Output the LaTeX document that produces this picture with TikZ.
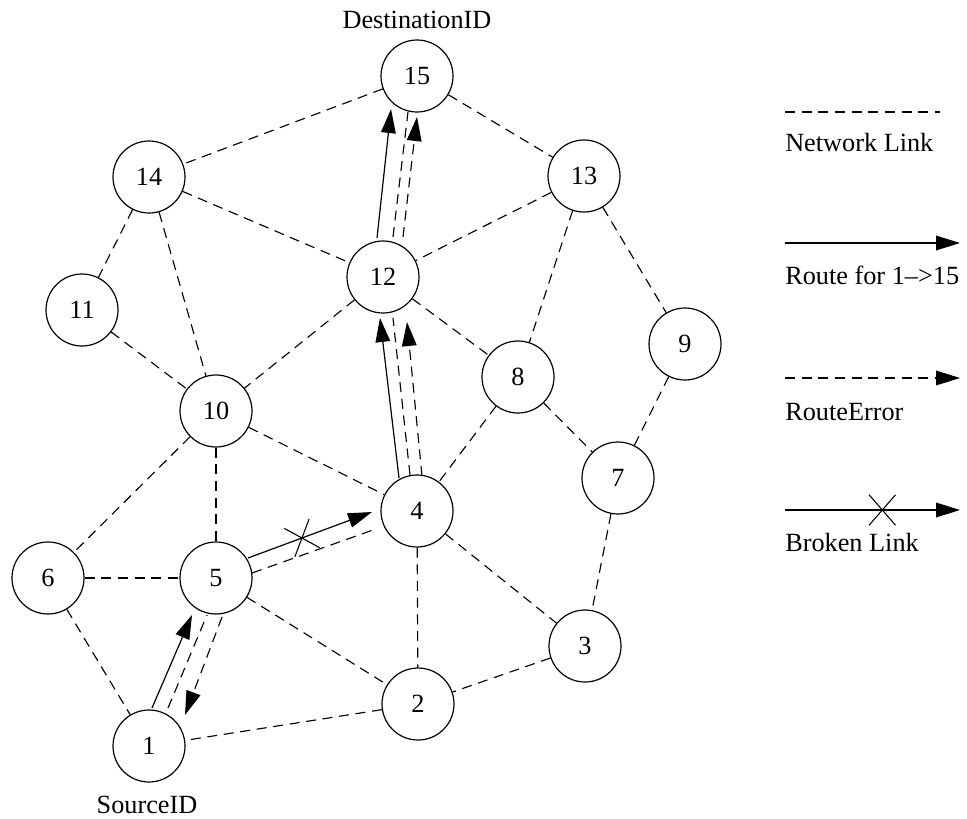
\documentclass[tikz,border=0pt]{standalone}
\usepackage{fontspec}
\setmainfont{Liberation Serif}
\usetikzlibrary{arrows.meta,calc,shapes.misc}
\begin{document}
\begin{tikzpicture}[x=0.75pt,y=-0.75pt,
  font=\fontsize{19.7}{23}\selectfont,
  nd/.style={circle,draw,line width=0.9pt,minimum size=54pt,inner sep=0pt},
  link/.style={line width=0.85pt,dash pattern=on 7.5pt off 5pt},
  route/.style={line width=0.9pt,-{Triangle[length=18pt,width=11pt]}},
  rerr/.style={link,-{Triangle[length=18pt,width=11pt]}},
  xmark/.style={cross out,draw,solid,line width=0.8pt,minimum width=19pt,minimum height=22pt,inner sep=0pt},
  lbl/.style={inner sep=0pt}
]
\useasboundingbox (0,0) rectangle (967,818);

% nodes
\node[nd] (n15) at (417,76) {15};
\node[nd] (n14) at (149,177) {14};
\node[nd] (n13) at (584,176) {13};
\node[nd] (n12) at (383,277) {12};
\node[nd] (n11) at (82,310) {11};
\node[nd] (n9)  at (685,344) {9};
\node[nd] (n8)  at (518,377) {8};
\node[nd] (n10) at (216,411) {10};
\node[nd] (n7)  at (618,478) {7};
\node[nd] (n4)  at (417,511) {4};
\node[nd] (n6)  at (48,578) {6};
\node[nd] (n5)  at (216,578) {5};
\node[nd] (n3)  at (585,646) {3};
\node[nd] (n2)  at (418,704) {2};
\node[nd] (n1)  at (149,746) {1};

\node[lbl] (dest) at (417,20) {DestinationID};
\node[lbl] (src) at (147,805) {SourceID};

% network links
\draw[link] (n15) -- (n14);
\draw[link] (n15) -- (n13);
\draw[link] (n14) -- (n12);
\draw[link] (n14) -- (n11);
\draw[link] (n14) -- (n10);
\draw[link] (n13) -- (n12);
\draw[link] (n13) -- (n8);
\draw[link] (n13) -- (n9);
\draw[link] (n12) -- (n10);
\draw[link] (n12) -- (n8);
\draw[link] (n11) -- (n10);
\draw[link] (n10) -- (n4);
\draw[link] (n10) -- (n5);
\draw[link] (n10) -- (n6);
\draw[link] (n8) -- (n4);
\draw[link] (n8) -- (n7);
\draw[link] (n9) -- (n7);
\draw[link] (n7) -- (n3);
\draw[link] (n6) -- (n5);
\draw[link] (n6) -- (n1);
\draw[link] (n5) -- (n2);
\draw[link] (n4) -- (n2);
\draw[link] (n4) -- (n3);
\draw[link] (n3) -- (n2);
\draw[link] (n2) -- (n1);

% bundle 12-15
\draw[route] ($(n12)+(-6,-39)$) -- ($(n15)+(-26,33)$);
\draw[link]  ($(n12)+(10,-40)$) -- ($(n15)+(-9,36)$);
\draw[rerr]  ($(n12)+(20,-40)$) -- ($(n15)+(0,41)$);

% bundle 4-12
\draw[route] ($(n4)+(-18,-33)$) -- ($(n12)+(-3,41)$);
\draw[link]  ($(n4)+(-7,-36)$) -- ($(n12)+(10,41)$);
\draw[rerr]  ($(n4)+(5,-35)$) -- ($(n12)+(24,45)$);

% bundle 1-5
\draw[route] ($(n1)+(3,-38)$) -- ($(n5)+(-24,37)$);
\draw[link]  ($(n1)+(19,-38)$) -- ($(n5)+(-9,37)$);
\draw[rerr]  ($(n5)+(6,39)$) -- ($(n1)+(36,-31)$);

% bundle 5-4
\draw[route] ($(n5)+(32,-20)$) -- node[xmark,sloped,pos=0.435] (bx) {} ($(n4)+(-45,1)$);
\draw[link]  ($(n5)+(36,-5)$) -- ($(n4)+(-44,19)$);

% legend
\coordinate (l1a) at (785,112); \coordinate (l1b) at (940,112);
\draw[link] (l1a) -- (l1b);
\node[lbl,anchor=west] (t1) at (785,143) {Network Link};

\coordinate (l2a) at (785,243); \coordinate (l2b) at (960,243);
\draw[route] (l2a) -- (l2b);
\node[lbl,anchor=west] (t2) at (785,275) {Route for 1\textendash{}>15};

\coordinate (l3a) at (785,378); \coordinate (l3b) at (960,378);
\draw[rerr] (l3a) -- (l3b);
\node[lbl,anchor=west] (t3) at (785,412) {RouteError};

\coordinate (l4a) at (785,510); \coordinate (l4b) at (960,510);
\draw[route] (l4a) -- node[xmark,pos=0.556] (lx) {} (l4b);
\node[lbl,anchor=west] (t4) at (785,543) {Broken Link};
\end{tikzpicture}
\end{document}
